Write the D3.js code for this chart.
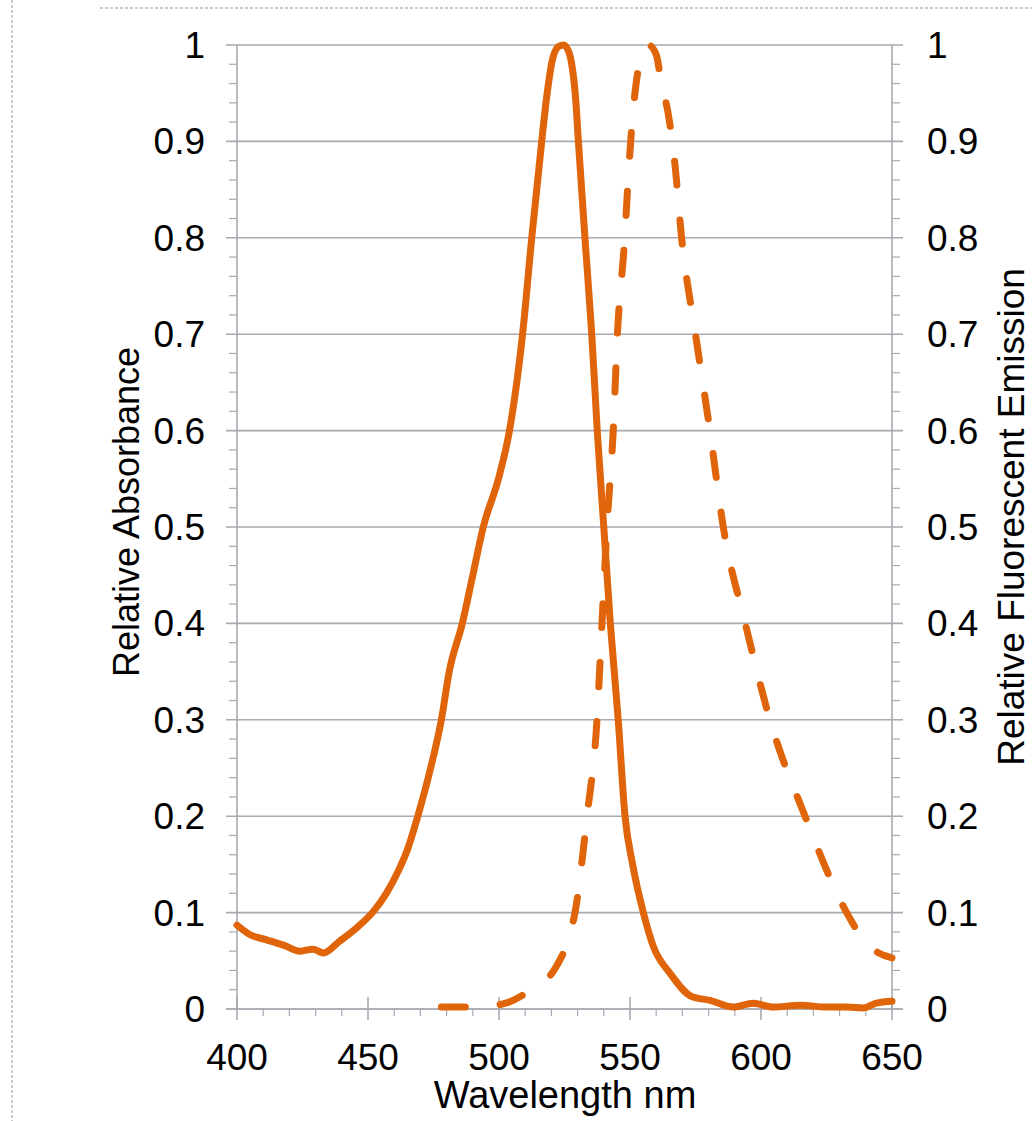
<!DOCTYPE html>
<html>
<head>
<meta charset="utf-8">
<script src="https://cdn.jsdelivr.net/npm/d3@7"></script>
<style>
  body { margin: 0; background: #fff; }
  text { font-family: "Liberation Sans", Arial, sans-serif; fill: #000; }
</style>
</head>
<body>
<div class="chart"></div>
<script>
// absorbance (solid line)
var absWl  = [400, 405, 411, 418, 424, 429, 433, 439, 446, 452, 457, 461, 465, 469, 474, 478, 481, 486, 490, 494,
              500, 504, 509, 512.5, 516.3, 518.2, 520.1, 522.5, 524.6, 526.3, 527.7, 529.2, 530.3, 532.8, 535.4, 537.5,
              540, 542.5, 545.5, 548.1, 551, 555.1, 558.9, 565.3, 573.5, 580.5, 589.4, 597, 604.6, 615, 625, 632.7, 639, 644, 650];
var absVal = [0.087, 0.077, 0.072, 0.066, 0.060, 0.062, 0.058, 0.070, 0.085, 0.101, 0.120, 0.140, 0.165, 0.200, 0.251, 0.300, 0.350, 0.400, 0.450, 0.500,
              0.552, 0.600, 0.700, 0.800, 0.900, 0.946, 0.981, 0.998, 1.000, 0.995, 0.981, 0.946, 0.900, 0.800, 0.700, 0.600,
              0.500, 0.400, 0.300, 0.200, 0.150, 0.100, 0.065, 0.037, 0.013, 0.009, 0.002, 0.006, 0.002, 0.004, 0.002, 0.002, 0.001, 0.006, 0.008];

// fluorescent emission (dashed line)
var emWl  = [478, 491, 502.5, 513, 521.4, 526.4, 529, 533.6, 537.4, 539.3, 541.2, 543.6, 545.2, 548, 549.5, 551.5, 554, 557,
             560, 562, 564.5, 567, 569.7, 575, 580.5, 585.6, 594, 603.4, 616.8, 632.7, 640.3, 645, 650];
var emVal = [0.002, 0.002, 0.006, 0.022, 0.042, 0.072, 0.100, 0.200, 0.300, 0.400, 0.500, 0.600, 0.700, 0.800, 0.870, 0.940, 0.985, 1.000,
             0.990, 0.960, 0.930, 0.880, 0.800, 0.700, 0.600, 0.500, 0.400, 0.300, 0.200, 0.100, 0.068, 0.058, 0.053];

var xTicks = [400, 450, 500, 550, 600, 650];
var yTicks = [0, 0.1, 0.2, 0.3, 0.4, 0.5, 0.6, 0.7, 0.8, 0.9, 1];
var yTickLabels = ["0", "0.1", "0.2", "0.3", "0.4", "0.5", "0.6", "0.7", "0.8", "0.9", "1"];

var orange = "#e0650a";
var grey = "#a9aab2";

var svg = d3.select(".chart").append("svg")
    .attr("width", 1032)
    .attr("height", 1121);

var x = d3.scaleLinear().domain([400, 650]).range([237, 892]);
var y = d3.scaleLinear().domain([0, 1]).range([1009, 45]);

// outer frame bits
svg.append("line").attr("x1", 100).attr("x2", 1032).attr("y1", 8).attr("y2", 8)
    .attr("stroke", "#b8b8c0").attr("stroke-width", 1.5).attr("stroke-dasharray", "3,2");
svg.append("line").attr("x1", 12).attr("x2", 12).attr("y1", 0).attr("y2", 1121)
    .attr("stroke", "#b8b8c0").attr("stroke-width", 1.5).attr("stroke-dasharray", "3,2");

// horizontal gridlines (extend out as major ticks)
svg.selectAll("line.grid")
    .data(yTicks)
    .enter()
    .append("line")
    .attr("class", "grid")
    .attr("x1", 226)
    .attr("x2", 903)
    .attr("y1", function (d) { return y(d); })
    .attr("y2", function (d) { return y(d); })
    .attr("stroke", grey)
    .attr("stroke-width", 1.6);

// minor y ticks every 0.02
var yMinor = d3.range(0, 1.001, 0.02).filter(function (d) { return Math.round(d * 50) % 5 !== 0; });
svg.selectAll("line.yminL")
    .data(yMinor).enter().append("line")
    .attr("x1", 229).attr("x2", 237)
    .attr("y1", function (d) { return y(d); }).attr("y2", function (d) { return y(d); })
    .attr("stroke", grey).attr("stroke-width", 1.2);
svg.selectAll("line.yminR")
    .data(yMinor).enter().append("line")
    .attr("x1", 892).attr("x2", 900)
    .attr("y1", function (d) { return y(d); }).attr("y2", function (d) { return y(d); })
    .attr("stroke", grey).attr("stroke-width", 1.2);

// axis lines
svg.append("line").attr("x1", 237).attr("x2", 237).attr("y1", y(1)).attr("y2", y(0))
    .attr("stroke", grey).attr("stroke-width", 1.6);
svg.append("line").attr("x1", 892).attr("x2", 892).attr("y1", y(1)).attr("y2", y(0))
    .attr("stroke", grey).attr("stroke-width", 1.6);
svg.append("line").attr("x1", 226).attr("x2", 903).attr("y1", y(0)).attr("y2", y(0))
    .attr("stroke", grey).attr("stroke-width", 1.6);

// x ticks
var xMinor = d3.range(400, 651, 10).filter(function (d) { return d % 50 !== 0; });
svg.selectAll("line.xmin")
    .data(xMinor).enter().append("line")
    .attr("x1", function (d) { return x(d); }).attr("x2", function (d) { return x(d); })
    .attr("y1", y(0)).attr("y2", y(0) + 7)
    .attr("stroke", grey).attr("stroke-width", 1.2);
svg.selectAll("line.xmaj")
    .data(xTicks).enter().append("line")
    .attr("x1", function (d) { return x(d); }).attr("x2", function (d) { return x(d); })
    .attr("y1", y(0) - 12).attr("y2", y(0) + 11)
    .attr("stroke", grey).attr("stroke-width", 1.6);

// tick labels
svg.selectAll("text.yl")
    .data(yTicks).enter().append("text")
    .attr("x", 205)
    .attr("y", function (d) { return y(d) + 13; })
    .attr("text-anchor", "end")
    .attr("font-size", 37)
    .text(function (d, i) { return yTickLabels[i]; });
svg.selectAll("text.yr")
    .data(yTicks).enter().append("text")
    .attr("x", 927)
    .attr("y", function (d) { return y(d) + 13; })
    .attr("text-anchor", "start")
    .attr("font-size", 37)
    .text(function (d, i) { return yTickLabels[i]; });
svg.selectAll("text.xl")
    .data(xTicks).enter().append("text")
    .attr("x", function (d) { return x(d); })
    .attr("y", 1070)
    .attr("text-anchor", "middle")
    .attr("font-size", 37)
    .text(function (d) { return d; });

// axis titles
svg.append("text")
    .attr("transform", "translate(139,512) rotate(-90)")
    .attr("text-anchor", "middle")
    .attr("font-size", 36)
    .text("Relative Absorbance");
svg.append("text")
    .attr("transform", "translate(1024,517) rotate(-90)")
    .attr("text-anchor", "middle")
    .attr("font-size", 37)
    .text("Relative Fluorescent Emission");
svg.append("text")
    .attr("x", 565)
    .attr("y", 1108)
    .attr("text-anchor", "middle")
    .attr("font-size", 38)
    .text("Wavelength nm");

// curves
var line = d3.line()
    .x(function (d) { return x(d[0]); })
    .y(function (d) { return y(d[1]); })
    .curve(d3.curveMonotoneX);

svg.append("path")
    .datum(d3.zip(absWl, absVal))
    .attr("d", line)
    .attr("fill", "none")
    .attr("stroke", orange)
    .attr("stroke-width", 7)
    .attr("stroke-linejoin", "round")
    .attr("stroke-linecap", "round");

svg.append("path")
    .datum(d3.zip(emWl, emVal))
    .attr("d", line)
    .attr("fill", "none")
    .attr("stroke", orange)
    .attr("stroke-width", 7)
    .attr("stroke-linecap", "round")
    .attr("stroke-dasharray", "24,35");
</script>
</body>
</html>
